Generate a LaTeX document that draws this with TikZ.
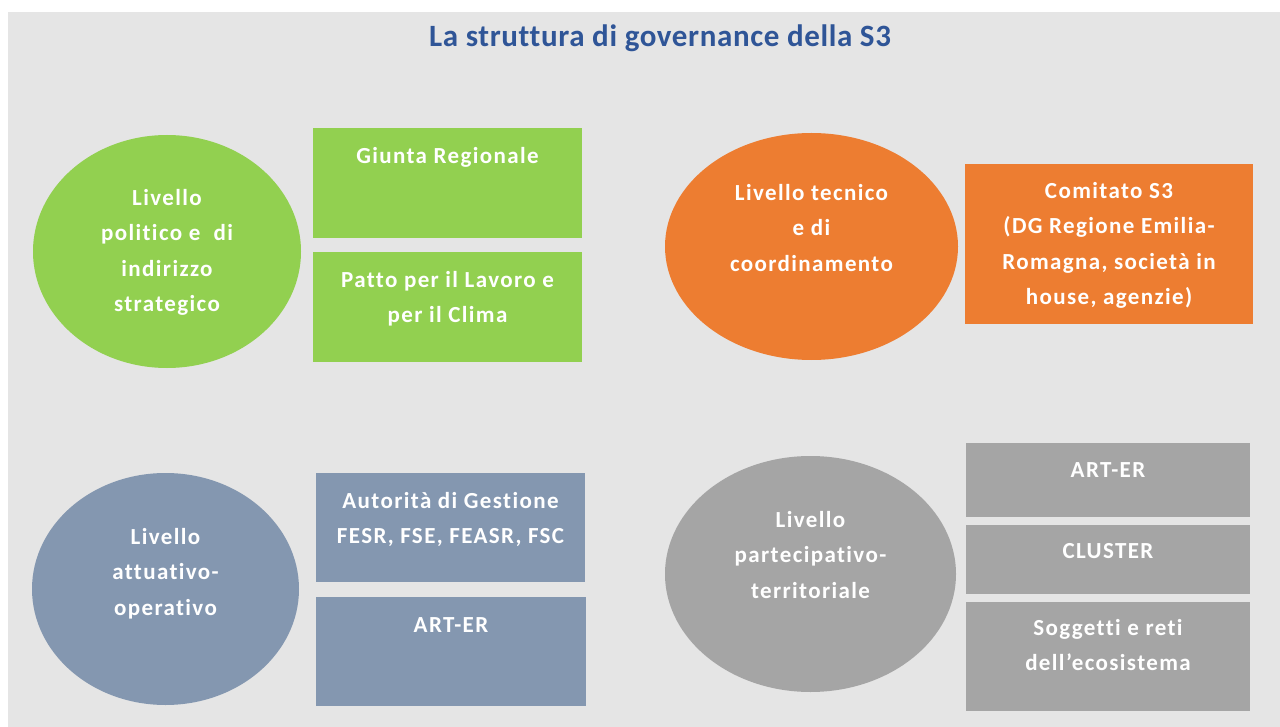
\documentclass[tikz,border=0pt]{standalone}
\usepackage{fontspec}
\usepackage{xcolor}
\usetikzlibrary{shapes,positioning}
\setmainfont{Carlito}
\newfontfamily\bodyfont{Carlito}[LetterSpace=6, Ligatures={NoCommon}]
\newfontfamily\titlefont{Carlito}[LetterSpace=2, Ligatures={NoCommon}]
\definecolor{govgreen}{RGB}{146,208,80}
\definecolor{govorange}{RGB}{237,125,49}
\definecolor{govblue}{RGB}{132,151,176}
\definecolor{govgray}{RGB}{165,165,165}
\definecolor{govback}{RGB}{229,229,229}
\definecolor{govtitle}{RGB}{47,85,151}

\begin{document}
\begin{tikzpicture}[x=1pt, y=-1pt,
    lvlell/.style={ellipse, inner sep=0pt, outer sep=0pt},
    govbox/.style={rectangle, inner sep=0pt, outer sep=0pt, anchor=north west},
    govtext/.style={text=white, align=center, inner sep=0pt, anchor=north,
        font=\fontsize{23}{35.5}\selectfont\bodyfont\bfseries}]
    \useasboundingbox (0,0) rectangle (1280,727);
    \fill[govback] (8,12) rectangle (1280,727);

    % Title
    \node[anchor=base, inner sep=0pt, text=govtitle, font=\fontsize{31}{36}\selectfont\titlefont\bfseries] (title) at (660,46.5) {La struttura di governance della S3};

    % Top left: political level
    \node[lvlell, fill=govgreen, minimum width=268pt, minimum height=233pt] (polell) at (167,251.5) {};
    \node[govtext, below=54pt of polell.north] (poltext) {Livello\\politico e\ \ di\\indirizzo\\strategico};
    \node[govbox, fill=govgreen, minimum width=269pt, minimum height=110pt] (giunta) at (313,128) {};
    \node[govtext, below=19pt of giunta.north] (giuntatext) {Giunta Regionale};
    \node[govbox, fill=govgreen, minimum width=269pt, minimum height=110pt] (patto) at (313,252) {};
    \node[govtext, below=19pt of patto.north] (pattotext) {Patto per il Lavoro e\\per il Clima};

    % Top right: technical level
    \node[lvlell, fill=govorange, minimum width=293pt, minimum height=227pt] (tecell) at (811.5,246.5) {};
    \node[govtext, below=51pt of tecell.north] (tectext) {Livello tecnico\\e di\\coordinamento};
    \node[govbox, fill=govorange, minimum width=288pt, minimum height=160pt] (comitato) at (965,164) {};
    \node[govtext, below=18pt of comitato.north] (comitatotext) {Comitato S3\\(DG Regione Emilia-\\Romagna, società in\\house, agenzie)};

    % Bottom left: operational level
    \node[lvlell, fill=govblue, minimum width=267pt, minimum height=232pt] (opell) at (165.5,589) {};
    \node[govtext, below=55pt of opell.north] (optext) {Livello\\attuativo-\\operativo};
    \node[govbox, fill=govblue, minimum width=269pt, minimum height=109pt] (autorita) at (316,473) {};
    \node[govtext, below=19pt of autorita.north] (autoritatext) {Autorità di Gestione\\FESR, FSE, FEASR, FSC};
    \node[govbox, fill=govblue, minimum width=270pt, minimum height=109pt] (arterop) at (316,597) {};
    \node[govtext, below=20pt of arterop.north] (arteroptext) {ART-ER};

    % Bottom right: participatory level
    \node[lvlell, fill=govgray, minimum width=291pt, minimum height=236pt] (parell) at (810.5,574) {};
    \node[govtext, below=55pt of parell.north] (partext) {Livello\\partecipativo-\\territoriale};
    \node[govbox, fill=govgray, minimum width=284pt, minimum height=74pt] (arterpar) at (966,443) {};
    \node[govtext, below=19pt of arterpar.north] (arterpartext) {ART-ER};
    \node[govbox, fill=govgray, minimum width=284pt, minimum height=69pt] (cluster) at (966,525) {};
    \node[govtext, below=18pt of cluster.north] (clustertext) {CLUSTER};
    \node[govbox, fill=govgray, minimum width=284pt, minimum height=109pt] (soggetti) at (966,602) {};
    \node[govtext, below=17pt of soggetti.north] (soggettitext) {Soggetti e reti\\dell’ecosistema};
\end{tikzpicture}
\end{document}
